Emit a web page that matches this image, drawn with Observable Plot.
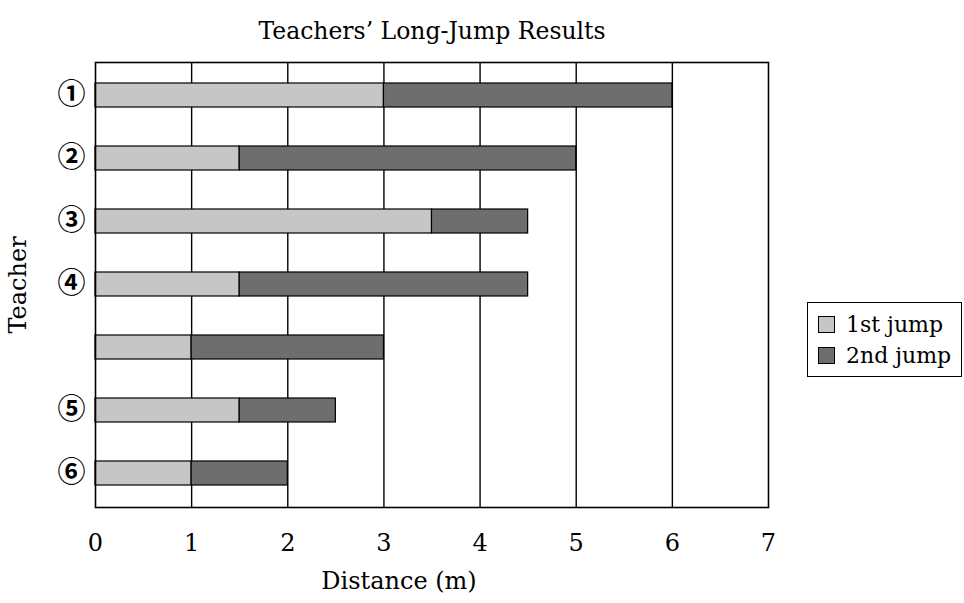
<!DOCTYPE html>
<html>
<head>
<meta charset="utf-8">
<script src="https://cdn.jsdelivr.net/npm/d3@7"></script>
<script src="https://cdn.jsdelivr.net/npm/@observablehq/plot@0.6"></script>
<style>
  html, body { margin: 0; padding: 0; background: #fff; }
  #wrap { position: relative; width: 964px; height: 603px; overflow: hidden; }
  #legend {
    position: absolute; left: 807px; top: 302px; width: 155px; height: 75px;
    border: 1px solid #000; box-sizing: border-box; background: #fff;
    font-family: "DejaVu Serif", serif; font-size: 22px; color: #000;
    padding-top: 6px;
  }
  .item { display: flex; align-items: center; height: 31px; padding-left: 10px; }
  .sw { width: 17px; height: 17px; border: 1px solid #000; box-sizing: border-box; margin-right: 11px; }
</style>
</head>
<body>
<div id="wrap"></div>
<script>
const teachers = ["①", "②", "③", "④", "", "⑤", "⑥"];
const firstJump = [3, 1.5, 3.5, 1.5, 1, 1.5, 1];
const secondJump = [3, 3.5, 1, 3, 2, 1, 1];
const series = ["1st jump", "2nd jump"];
const seriesColors = ["#c6c6c6", "#6e6e6e"];
const xTicks = [0, 1, 2, 3, 4, 5, 6, 7];
const title = "Teachers\u2019 Long-Jump Results";
const xLabel = "Distance (m)";
const yLabel = "Teacher";

const rows = teachers.flatMap((t, i) => [
  {teacher: t, jump: series[0], value: firstJump[i]},
  {teacher: t, jump: series[1], value: secondJump[i]}
]);

const serif = "DejaVu Serif, serif";

const chart = Plot.plot({
  width: 964,
  height: 603,
  marginLeft: 95,
  marginRight: 196,
  marginTop: 62,
  marginBottom: 96,
  style: {fontFamily: serif, fontSize: "22px", color: "#000", background: "#fff"},
  x: {domain: [0, 7], ticks: xTicks, label: null},
  y: {domain: teachers, paddingInner: 0.616, paddingOuter: 0.308, label: null},
  color: {domain: series, range: seriesColors},
  marks: [
    Plot.gridX(xTicks.slice(1, -1), {stroke: "#000", strokeOpacity: 1, strokeWidth: 1.4}),
    Plot.barX(rows, Plot.stackX({y: "teacher", x: "value", fill: "jump", stroke: "#000", strokeWidth: 1.2})),
    Plot.frame({stroke: "#000", strokeWidth: 1.6}),
    Plot.axisX(xTicks, {tickSize: 0, tickPadding: 26, fontSize: 24, fontFamily: serif, label: null}),
    Plot.axisY(teachers, {tickSize: 0, tickPadding: 10, fontSize: 28, fontWeight: "bold", fontFamily: "Noto Sans CJK JP", label: null}),
    Plot.text([title], {frameAnchor: "top", dy: -40, fontSize: 23.5, fontFamily: serif}),
    Plot.text([xLabel], {frameAnchor: "bottom", dy: 81, dx: -33, fontSize: 24, fontFamily: serif}),
    Plot.text([yLabel], {frameAnchor: "left", textAnchor: "middle", dx: -77, rotate: -90, fontSize: 24, fontFamily: serif})
  ]
});
const wrap = document.getElementById("wrap");
wrap.appendChild(chart);

const legend = document.createElement("div");
legend.id = "legend";
series.forEach((s, i) => {
  const item = document.createElement("div");
  item.className = "item";
  const sw = document.createElement("span");
  sw.className = "sw";
  sw.style.background = seriesColors[i];
  item.appendChild(sw);
  item.appendChild(document.createTextNode(s));
  legend.appendChild(item);
});
wrap.appendChild(legend);
</script>
</body>
</html>
